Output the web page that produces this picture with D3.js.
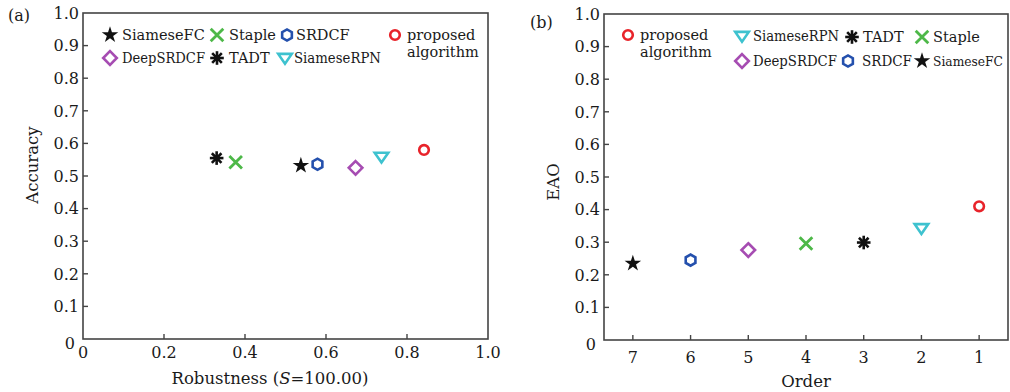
<!DOCTYPE html>
<html><head><meta charset="utf-8">
<script src="https://cdn.jsdelivr.net/npm/d3@7"></script>
<style>body{margin:0;background:#fff}svg{display:block}text{font-family:"DejaVu Serif",serif;fill:#1a1a1a}</style>
</head><body><svg id="c" width="1010" height="392"></svg>
<script>
// ---- data ----
const methods = ["SiameseFC","Staple","SRDCF","DeepSRDCF","TADT","SiameseRPN","proposed algorithm"];
const robustness = [0.538,0.377,0.579,0.673,0.330,0.737,0.842];
const accuracy   = [0.532,0.542,0.536,0.525,0.555,0.559,0.580];
const eaoOrder   = [7,4,6,5,3,2,1];
const eao        = [0.235,0.296,0.245,0.276,0.299,0.343,0.410];
const yTicks = [0,0.1,0.2,0.3,0.4,0.5,0.6,0.7,0.8,0.9,1.0];
const yTickLabels = ["0","0.1","0.2","0.3","0.4","0.5","0.6","0.7","0.8","0.9","1.0"];
const xTicksA = [0,0.2,0.4,0.6,0.8,1.0];
const xTickLabelsA = ["0","0.2","0.4","0.6","0.8","1.0"];
const xTicksB = [7,6,5,4,3,2,1];

// ---- styles ----
const markerType = ["star","x","hex","diamond","asterisk","tri","circle"];
const markerColor = ["#111","#4db848","#2450ad","#a64cb2","#111","#3ec2cf","#e8232a"];
const fontTick = 16, fontLegend = 14.5, fontTitle = 16.5;

const svg = d3.select("#c");

function marker(g, type, color, x, y){
  const s = g.append("g").attr("transform",`translate(${x},${y})`);
  if(type==="star"){
    s.append("path").attr("d",d3.symbol(d3.symbolStar,85)()).attr("fill",color);
  } else if(type==="circle"){
    s.append("circle").attr("r",4.8).attr("fill","none").attr("stroke",color).attr("stroke-width",2.6);
  } else if(type==="hex"){
    const r=5.6, pts=d3.range(6).map(i=>{const a=Math.PI/6+i*Math.PI/3;return [r*Math.cos(a),r*Math.sin(a)];});
    s.append("path").attr("d",d3.line()(pts)+"Z").attr("fill","none").attr("stroke",color).attr("stroke-width",2.6);
  } else if(type==="diamond"){
    const r=6.8;
    s.append("path").attr("d",d3.line()([[0,-r],[r,0],[0,r],[-r,0]])+"Z").attr("fill","none").attr("stroke",color).attr("stroke-width",2.6);
  } else if(type==="tri"){
    const r=6.8;
    s.append("path").attr("d",d3.line()([[-r,-r*0.6],[r,-r*0.6],[0,r*0.85]])+"Z").attr("fill","none").attr("stroke",color).attr("stroke-width",2.6).attr("stroke-linejoin","miter");
  } else if(type==="x"){
    const r=6.3;
    s.append("path").attr("d",`M${-r},${-r}L${r},${r}M${-r},${r}L${r},${-r}`).attr("stroke",color).attr("stroke-width",2.8);
  } else if(type==="asterisk"){
    const r=6.8;
    for(let i=0;i<4;i++){const a=i*Math.PI/4;
      s.append("path").attr("d",`M${-r*Math.cos(a)},${-r*Math.sin(a)}L${r*Math.cos(a)},${r*Math.sin(a)}`).attr("stroke",color).attr("stroke-width",2.6);}
    s.append("circle").attr("r",3).attr("fill",color);
  }
}

function frame(g, x, y){
  const [x0,x1]=x.range(), [y0,y1]=y.range();
  g.append("rect").attr("x",x0).attr("y",y1).attr("width",x1-x0).attr("height",y0-y1)
    .attr("fill","none").attr("stroke","#444").attr("stroke-width",1.6);
  g.selectAll(null).data(yTicks.slice(1,-1)).join("line")
    .attr("x1",x0).attr("x2",x0+5).attr("y1",d=>y(d)).attr("y2",d=>y(d)).attr("stroke","#444").attr("stroke-width",1.4);
  g.selectAll(null).data(yTicks).join("text")
    .attr("x",(d,i)=>i===0?x0-8:x0-4).attr("y",(d,i)=>y(d)+(i===0?4:0)).attr("dy","0.36em")
    .attr("text-anchor","end").attr("font-size",fontTick).text((d,i)=>yTickLabels[i]);
}

const fitLen = {"DeepSRDCF":83};

// ---- panel (a) ----
const ga = svg.append("g");
const xa = d3.scaleLinear([0,1],[83,488]);
const ya = d3.scaleLinear([0,1],[339,13]);
frame(ga, xa, ya);
ga.selectAll(null).data(xTicksA.slice(1,-1)).join("line")
  .attr("x1",d=>xa(d)).attr("x2",d=>xa(d)).attr("y1",339).attr("y2",334).attr("stroke","#444").attr("stroke-width",1.4);
ga.selectAll(null).data(xTicksA).join("text")
  .attr("x",d=>xa(d)).attr("y",358).attr("text-anchor","middle").attr("font-size",fontTick).text((d,i)=>xTickLabelsA[i]);
const tA = ga.append("text").attr("x",270).attr("y",384).attr("text-anchor","middle").attr("font-size",fontTitle);
tA.append("tspan").text("Robustness (");
tA.append("tspan").attr("font-style","italic").text("S");
tA.append("tspan").text("=100.00)");
ga.append("text").attr("transform","translate(38,165) rotate(-90)").attr("text-anchor","middle").attr("font-size",fontTitle).text("Accuracy");
ga.append("text").attr("x",8).attr("y",21).attr("font-size",fontTick).text("(a)");
methods.forEach((m,i)=>marker(ga, markerType[i], markerColor[i], xa(robustness[i]), ya(accuracy[i])));
const legA = [[0,110,35],[1,217,35],[2,287,35],[6,395,35],[3,110,58],[4,217,58],[5,285,58]];
legA.forEach(([i,x,y])=>{
  marker(ga, markerType[i], markerColor[i], x, y);
  if(i===6){
    ga.append("text").attr("x",x+12).attr("y",y).attr("dy","0.35em").attr("font-size",fontLegend).text("proposed");
    ga.append("text").attr("x",x+12).attr("y",y+17).attr("dy","0.35em").attr("font-size",fontLegend).text("algorithm");
  } else {
    const t = ga.append("text").attr("x",x+(i===2||i===5?9:12)).attr("y",y).attr("dy","0.35em").attr("font-size",fontLegend).text(methods[i]);
    if(i===3) t.attr("textLength",83).attr("lengthAdjust","spacingAndGlyphs");
    if(i===5) t.attr("textLength",87).attr("lengthAdjust","spacingAndGlyphs");
  }
});

// ---- panel (b) ----
const gb = svg.append("g");
const xb = d3.scaleLinear([7.5,0.5],[604,1008]);
const yb = d3.scaleLinear([0,1],[340,14]);
frame(gb, xb, yb);
gb.selectAll(null).data(xTicksB).join("line")
  .attr("x1",d=>xb(d)).attr("x2",d=>xb(d)).attr("y1",340).attr("y2",335).attr("stroke","#444").attr("stroke-width",1.4);
gb.selectAll(null).data(xTicksB).join("text")
  .attr("x",d=>xb(d)).attr("y",363).attr("text-anchor","middle").attr("font-size",fontTick).text(d=>d);
gb.append("text").attr("x",806).attr("y",387).attr("text-anchor","middle").attr("font-size",fontTitle).text("Order");
gb.append("text").attr("transform","translate(559,182) rotate(-90)").attr("text-anchor","middle").attr("font-size",fontTitle).text("EAO");
gb.append("text").attr("x",530).attr("y",28).attr("font-size",fontTick).text("(b)");
methods.forEach((m,i)=>marker(gb, markerType[i], markerColor[i], xb(eaoOrder[i]), yb(eao[i])));
const legB = [[6,628,35],[5,742,36],[4,852,37],[1,922,37],[3,742,61],[2,848,61],[0,922,61]];
const lenB = {5:86, 3:84, 2:50, 0:70};
legB.forEach(([i,x,y])=>{
  marker(gb, markerType[i], markerColor[i], x, y);
  if(i===6){
    gb.append("text").attr("x",x+12).attr("y",y).attr("dy","0.35em").attr("font-size",fontLegend).text("proposed");
    gb.append("text").attr("x",x+12).attr("y",y+17).attr("dy","0.35em").attr("font-size",fontLegend).text("algorithm");
  } else {
    const t = gb.append("text").attr("x",x+(i===2?14:11)).attr("y",y).attr("dy","0.35em").attr("font-size",i===0?13.5:fontLegend).text(methods[i]);
    if(lenB[i]) t.attr("textLength",lenB[i]).attr("lengthAdjust","spacingAndGlyphs");
  }
});
</script></body></html>
